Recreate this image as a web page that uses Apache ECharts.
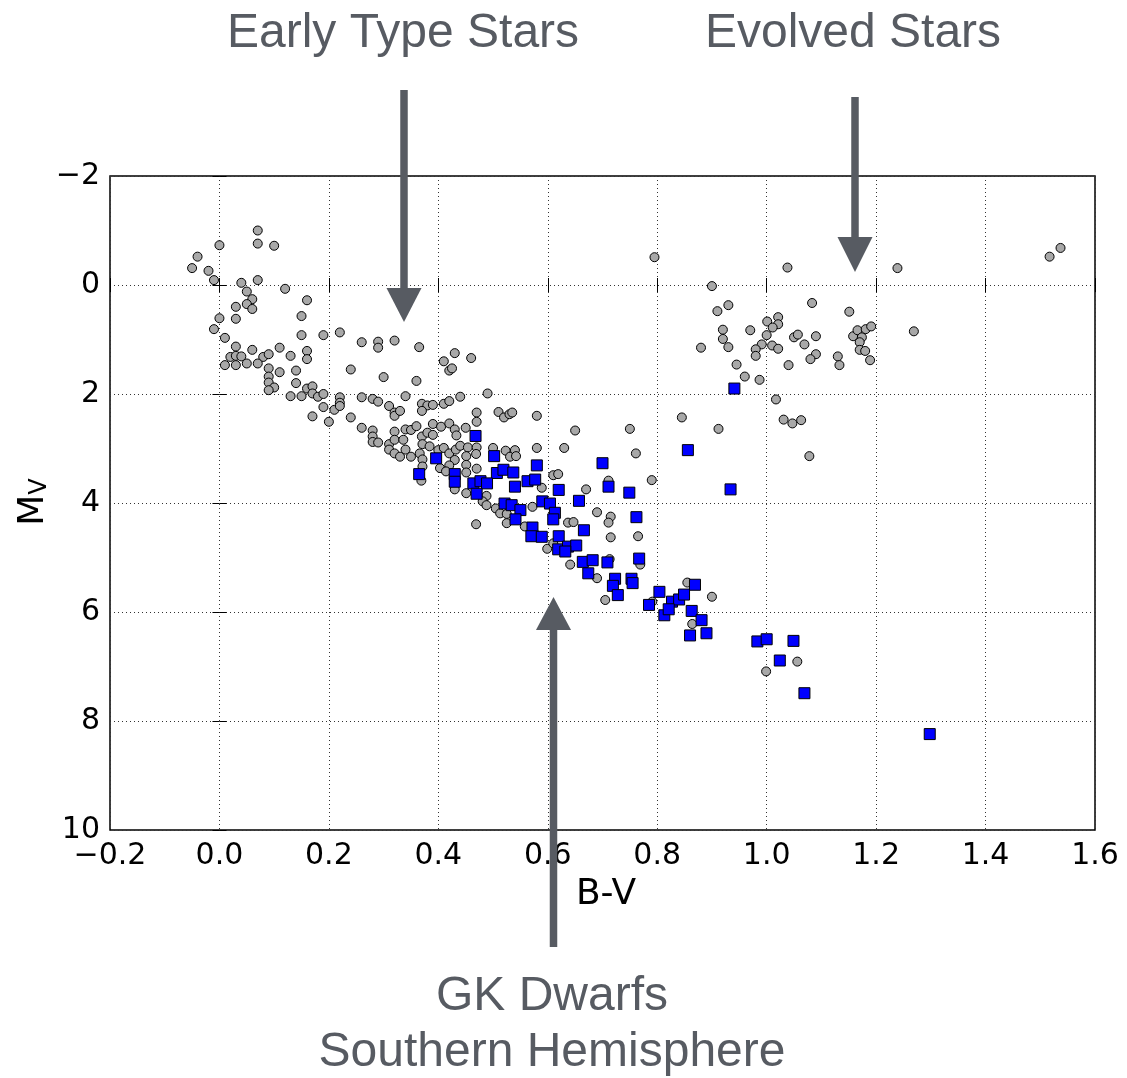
<!DOCTYPE html>
<html>
<head>
<meta charset="utf-8">
<title>HR diagram</title>
<script src="https://cdn.jsdelivr.net/npm/echarts@6/dist/echarts.min.js"></script>
<style>
  html, body { margin: 0; padding: 0; background: #fff; }
  #main { width: 1127px; height: 1078px; }
</style>
</head>
<body>
<div id="main"></div>
<script>
// B-V colour, absolute magnitude M_V
const fieldStars = [
  [0.07,-1.00],[0.07,-0.76],[0.10,-0.72],[0.00,-0.73],[-0.04,-0.52],[-0.05,-0.31],[-0.02,-0.26],[-0.01,-0.09],
  [0.07,-0.09],[0.04,-0.04],[0.12,0.07],[0.05,0.12],[0.06,0.26],[0.16,0.28],[0.03,0.40],[0.05,0.35],
  [0.06,0.44],[0.15,0.57],[0.00,0.61],[0.03,0.62],[-0.01,0.81],[0.01,0.97],[0.15,0.92],[0.19,0.92],
  [0.22,0.87],[0.03,1.13],[0.06,1.19],[0.11,1.15],[0.16,1.21],[0.16,1.36],[0.13,1.30],[0.02,1.32],
  [0.03,1.30],[0.04,1.31],[0.08,1.32],[0.09,1.27],[0.01,1.47],[0.03,1.47],[0.05,1.44],[0.07,1.44],
  [0.09,1.53],[0.09,1.68],[0.11,1.60],[0.14,1.57],[0.09,1.79],[0.10,1.88],[0.09,1.93],[0.14,1.80],
  [0.16,1.90],[0.17,1.86],[0.17,1.99],[0.18,2.05],[0.19,2.00],[0.13,2.04],[0.15,2.04],[0.22,2.06],
  [0.22,2.16],[0.24,1.55],[0.26,1.05],[0.29,1.04],[0.29,1.15],[0.32,1.02],[0.365,1.14],[0.30,1.69],
  [0.36,1.76],[0.34,2.04],[0.41,1.40],[0.43,1.25],[0.46,1.34],[0.42,1.57],[0.425,1.53],[0.49,1.99],
  [0.19,2.24],[0.17,2.41],[0.21,2.29],[0.22,2.22],[0.26,2.06],[0.28,2.09],[0.29,2.14],[0.31,2.22],
  [0.32,2.34],[0.32,2.40],[0.33,2.31],[0.24,2.43],[0.20,2.51],[0.37,2.18],[0.38,2.21],[0.37,2.31],
  [0.39,2.20],[0.41,2.18],[0.42,2.13],[0.44,2.05],[0.47,2.34],
  [0.51,2.33],[0.52,2.43],[0.53,2.37],[0.535,2.34],[0.58,2.40],
  [0.28,2.67],[0.26,2.62],[0.28,2.78],[0.28,2.88],[0.29,2.89],[0.31,2.92],[0.31,3.02],[0.32,3.09],
  [0.33,3.15],[0.32,2.69],[0.34,2.65],[0.35,2.66],[0.36,2.59],[0.37,2.78],[0.38,2.71],[0.39,2.55],
  [0.39,2.75],[0.405,2.60],[0.42,2.54],[0.43,2.65],[0.433,2.76],[0.45,2.62],[0.47,2.51],[0.32,2.84],
  [0.336,2.84],[0.34,3.02],[0.35,3.15],[0.366,3.09],[0.371,2.92],[0.371,3.20],[0.371,3.33],[0.369,3.59],
  [0.384,2.96],[0.40,3.03],[0.41,2.99],[0.42,3.09],[0.432,3.02],[0.44,2.95],[0.454,2.98],[0.47,2.98],
  [0.469,3.10],[0.43,3.21],[0.451,3.14],[0.42,3.31],[0.403,3.36],[0.414,3.42],[0.451,3.30],[0.451,3.44],
  [0.47,3.37],[0.43,3.75],[0.451,3.82],[0.488,3.87],[0.481,3.97],[0.488,4.04],[0.505,4.10],[0.513,4.19],
  [0.525,4.20],[0.525,4.37],[0.469,4.39],[0.50,2.99],[0.523,3.04],[0.531,3.15],[0.54,3.03],[0.542,3.14],
  [0.58,2.99],[0.63,2.99],[0.61,3.49],[0.619,3.47],[0.589,3.72],[0.572,4.07],[0.558,4.43],[0.574,4.53],
  [0.599,4.84],[0.61,4.74],[0.637,4.36],
  [0.65,2.67],[0.75,2.64],[0.761,3.09],[0.845,2.43],[0.912,2.64],[0.79,3.58],[0.711,3.59],[0.67,3.75],
  [0.69,4.17],[0.715,4.25],[0.711,4.36],[0.647,4.35],[0.715,4.63],[0.765,4.61],[0.713,5.03],[0.641,5.13],
  [0.69,5.38],[0.705,5.78],[0.769,5.13],[0.855,5.46],[0.90,5.72],
  [0.795,-0.51],[1.038,-0.32],[1.239,-0.31],[0.90,0.02],[0.91,0.48],[0.93,0.37],[0.92,0.82],[0.92,0.99],
  [0.88,1.15],[0.93,1.14],[0.945,1.46],[0.96,1.68],[0.987,1.74],[0.97,0.83],[1.001,0.67],[1.021,0.59],
  [1.021,0.72],[1.011,0.78],[1.00,0.92],[0.991,1.09],[0.98,1.18],[0.98,1.30],[1.01,1.11],[1.021,1.17],
  [1.04,1.47],[1.083,0.33],[1.05,0.96],[1.057,0.91],[1.09,0.94],[1.069,1.09],[1.09,1.27],[1.08,1.36],
  [1.13,1.31],[1.133,1.47],[1.151,0.49],[1.158,0.94],[1.166,0.83],[1.174,0.96],[1.181,0.81],[1.191,0.76],
  [1.17,1.05],[1.17,1.19],[1.18,1.21],[1.189,1.38],[1.269,0.85],[1.017,2.10],[1.031,2.47],[1.047,2.54],
  [1.063,2.48],[1.078,3.14],[1.517,-0.52],[1.537,-0.68],
  [0.864,6.22],[0.791,5.81],[1.056,6.91],[0.999,7.09]
];

const gkDwarfs = [
  [0.468,2.77],[0.396,3.18],[0.365,3.47],[0.43,3.47],[0.43,3.61],[0.502,3.14],[0.507,3.45],[0.519,3.39],
  [0.537,3.44],[0.464,3.64],[0.477,3.60],[0.489,3.64],[0.47,3.83],[0.54,3.70],[0.563,3.60],[0.577,3.57],
  [0.58,3.31],[0.62,3.76],[0.521,4.01],[0.534,4.04],[0.55,4.13],[0.541,4.30],[0.59,3.97],[0.604,4.01],
  [0.613,4.18],[0.61,4.30],[0.572,4.45],[0.57,4.61],[0.589,4.62],[0.62,4.61],[0.619,4.85],
  [0.70,3.27],[0.711,3.70],[0.749,3.81],[0.657,3.96],[0.762,4.26],[0.856,3.03],[0.934,3.75],[0.666,4.50],
  [0.767,5.02],[0.664,5.08],[0.682,5.05],[0.709,5.09],[0.674,5.29],[0.723,5.39],[0.719,5.52],[0.728,5.69],
  [0.753,5.39],[0.755,5.47],[0.804,5.63],[0.785,5.87],[0.827,5.81],[0.84,5.77],[0.849,5.68],[0.869,5.50],
  [0.813,6.06],[0.821,5.95],[0.863,5.98],[0.881,6.15],[0.637,4.80],[0.652,4.78],[0.632,4.89],
  [0.941,1.90],
  [0.89,6.39],[0.86,6.43],[0.983,6.54],[1.00,6.50],[1.049,6.53],[1.024,6.89],[1.069,7.49],[1.298,8.24]
];

const bvRange = [-0.2, 1.6];
const mvRange = [-2, 10];

const annotationColor = '#575b62';
const minus = s => String(s).replace('-', '\u2212');

const chart = echarts.init(document.getElementById('main'));

const tickStyle = { inside: true, length: 7, lineStyle: { color: '#000', width: 1 } };
const gridLine = { show: true, lineStyle: { color: '#333', type: [1, 3], width: 1 } };
const labelStyle = { fontFamily: 'DejaVu Sans', fontSize: 30, color: '#000' };

function arrow(x, yStart, yBase, yTip) {
  return [
    {
      type: 'line', z: 100,
      shape: { x1: x, y1: yStart, x2: x, y2: yBase },
      style: { stroke: annotationColor, lineWidth: 7.5 }
    },
    {
      type: 'polygon', z: 100,
      shape: { points: [[x - 17.5, yBase], [x + 17.5, yBase], [x, yTip]] },
      style: { fill: annotationColor }
    }
  ];
}

function note(text, x, y) {
  return {
    type: 'text', z: 100, x: x, y: y,
    style: {
      text: text, align: 'center', verticalAlign: 'middle',
      font: '48px "Liberation Sans", Arial, sans-serif', fill: annotationColor
    }
  };
}

chart.setOption({
  animation: false,
  grid: {
    left: 110, right: 32, top: 176, bottom: 248,
    show: true, borderColor: '#000', borderWidth: 1.5
  },
  xAxis: [
    {
      type: 'value', min: bvRange[0], max: bvRange[1], interval: 0.2,
      axisLine: { show: false }, axisTick: tickStyle, splitLine: gridLine,
      axisLabel: Object.assign({ margin: 11, formatter: v => minus(v.toFixed(1)) }, labelStyle)
    },
    {
      type: 'value', position: 'top', min: bvRange[0], max: bvRange[1], interval: 0.2,
      axisLine: { show: false }, axisTick: tickStyle, splitLine: { show: false },
      axisLabel: { show: false }
    }
  ],
  yAxis: [
    {
      type: 'value', inverse: true, min: mvRange[0], max: mvRange[1], interval: 2,
      axisLine: { show: false }, axisTick: tickStyle, splitLine: gridLine,
      axisLabel: Object.assign({ margin: 10, formatter: v => minus(v) }, labelStyle)
    },
    {
      type: 'value', position: 'right', inverse: true, min: mvRange[0], max: mvRange[1], interval: 2,
      axisLine: { show: false }, axisTick: tickStyle, splitLine: { show: false },
      axisLabel: { show: false }
    }
  ],
  series: [
    {
      name: 'Field stars', type: 'scatter', data: fieldStars,
      symbol: 'circle', symbolSize: 9, z: 2,
      itemStyle: { color: '#a8a8a8', borderColor: '#000', borderWidth: 1, opacity: 1 }
    },
    {
      name: 'GK Dwarfs', type: 'scatter', data: gkDwarfs,
      symbol: 'rect', symbolSize: 11, z: 3,
      itemStyle: { color: '#0000ff', borderColor: '#000', borderWidth: 1, opacity: 1 }
    }
  ],
  graphic: [
    ...arrow(404, 90, 288, 322),
    ...arrow(855, 97, 237, 272),
    ...arrow(553.5, 947, 630, 597),
    note('Early Type Stars', 403, 34),
    note('Evolved Stars', 853, 34),
    note('GK Dwarfs', 552, 997),
    note('Southern Hemisphere', 552, 1053),
    {
      type: 'text', x: 606, y: 895,
      style: { text: 'B-V', align: 'center', verticalAlign: 'middle',
        font: '36px "DejaVu Sans"', fill: '#000' }
    },
    {
      type: 'text', x: 34, y: 502, rotation: Math.PI / 2,
      style: {
        text: '{m|M}{s|V}', align: 'center', verticalAlign: 'middle',
        rich: {
          m: { fontFamily: 'DejaVu Sans', fontSize: 36, lineHeight: 36, fill: '#000' },
          s: { fontFamily: 'DejaVu Sans', fontSize: 24, lineHeight: 16, verticalAlign: 'bottom', fill: '#000' }
        }
      }
    }
  ]
});
</script>
</body>
</html>
